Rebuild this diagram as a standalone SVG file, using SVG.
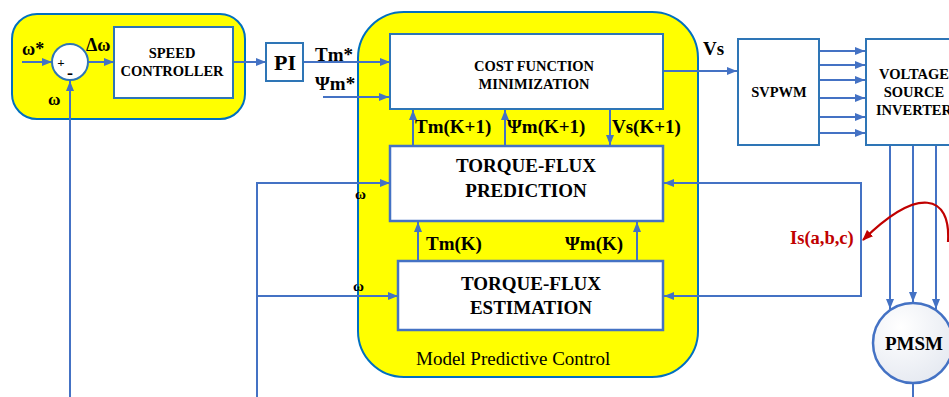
<svg xmlns="http://www.w3.org/2000/svg" width="949" height="397" viewBox="0 0 949 397">
  <defs>
    <marker id="arr" viewBox="0 0 10 8" refX="10" refY="4" markerWidth="10" markerHeight="8" markerUnits="userSpaceOnUse" orient="auto">
      <path d="M0,0 L10,4 L0,8 Z" fill="#4472C4"/>
    </marker>
    <marker id="arrRed" viewBox="0 0 10 8" refX="9" refY="4" markerWidth="11" markerHeight="9" markerUnits="userSpaceOnUse" orient="auto">
      <path d="M0,0 L10,4 L0,8 Z" fill="#C00000"/>
    </marker>
    <radialGradient id="motorFill" cx="0.35" cy="0.3" r="0.8">
      <stop offset="0" stop-color="#FFFFFF"/>
      <stop offset="1" stop-color="#E4E8F0"/>
    </radialGradient>
    <style>
      .zone { fill: #FFFF00; stroke: #0070C0; stroke-width: 2; }
      .box { fill: #FFFFFF; stroke: #2E75B6; stroke-width: 2; }
      .box2 { fill: #FFFFFF; stroke: #4472C4; stroke-width: 2.5; }
      .wire { fill: none; stroke: #4472C4; stroke-width: 2; }
      .wa { fill: none; stroke: #4472C4; stroke-width: 2; marker-end: url(#arr); }
      text { font-family: "Liberation Serif", "DejaVu Serif", "Times New Roman", serif; }
      .t { font-weight: bold; fill: #000000; }
      .c { text-anchor: middle; }
      .blk { font-size: 14.5px; }
      .big { font-size: 19px; }
      .lbl { font-size: 19px; }
      .sm { font-size: 15px; }
    </style>
  </defs>

  <!-- outer control zones -->
  <g id="speed-loop-zone">
    <rect class="zone" x="12" y="14" width="233" height="105" rx="25" ry="25"/>
  </g>
  <g id="mpc-zone">
    <rect class="zone" x="358" y="12" width="340" height="365" rx="46" ry="46"/>
    <text x="416" y="365" font-size="19" fill="#000000">Model Predictive Control</text>
  </g>

  <!-- connectors -->
  <g id="connectors">
    <!-- speed loop -->
    <line class="wa" x1="22" y1="62" x2="52" y2="62"/>
    <line class="wa" x1="88" y1="62" x2="114" y2="62"/>
    <line class="wa" x1="70" y1="397" x2="70" y2="81"/>
    <line class="wa" x1="233" y1="62" x2="266" y2="62"/>
    <!-- references into cost function -->
    <line class="wa" x1="303" y1="62" x2="390" y2="62"/>
    <line class="wa" x1="323" y1="97" x2="389" y2="97"/>
    <!-- internal MPC signals -->
    <line class="wa" x1="413" y1="146" x2="413" y2="110"/>
    <line class="wa" x1="505" y1="146" x2="505" y2="110"/>
    <line class="wa" x1="610" y1="110" x2="610" y2="145"/>
    <line class="wa" x1="418" y1="261" x2="418" y2="222"/>
    <line class="wa" x1="637" y1="261" x2="637" y2="222"/>
    <!-- speed feedback into MPC -->
    <line class="wire" x1="257" y1="397" x2="257" y2="182"/>
    <line class="wa" x1="256" y1="183" x2="390" y2="183"/>
    <line class="wa" x1="257" y1="296" x2="398" y2="296"/>
    <!-- voltage path -->
    <line class="wa" x1="663" y1="71" x2="737" y2="71"/>
    <line class="wa" x1="819" y1="51" x2="865" y2="51"/>
    <line class="wa" x1="819" y1="65" x2="865" y2="65"/>
    <line class="wa" x1="819" y1="80" x2="865" y2="80"/>
    <line class="wa" x1="819" y1="98" x2="865" y2="98"/>
    <line class="wa" x1="819" y1="117" x2="865" y2="117"/>
    <line class="wa" x1="819" y1="133" x2="865" y2="133"/>
    <!-- inverter phases to motor -->
    <line class="wa" x1="890" y1="145" x2="890" y2="309"/>
    <line class="wa" x1="913" y1="145" x2="913" y2="302"/>
    <line class="wa" x1="936" y1="145" x2="936" y2="309"/>
    <line class="wire" x1="913" y1="383" x2="913" y2="397"/>
    <!-- current feedback -->
    <line class="wire" x1="861" y1="182" x2="861" y2="297"/>
    <line class="wa" x1="862" y1="183" x2="664" y2="183"/>
    <line class="wa" x1="862" y1="296" x2="664" y2="296"/>
    <path d="M948,242 C951,194 918,186 863,240" fill="none" stroke="#C00000" stroke-width="2.2" marker-end="url(#arrRed)"/>
  </g>

  <!-- signal labels -->
  <g id="labels">
    <text class="t" x="22" y="55" font-size="18">ω*</text>
    <text class="t" x="86" y="51" font-size="18">Δω</text>
    <text class="t" x="48" y="105" font-size="17">ω</text>
    <text class="t lbl" x="315" y="61">Tm*</text>
    <text class="t lbl" x="315" y="90">Ψm*</text>
    <text class="t lbl" x="415" y="133">Tm(K+1)</text>
    <text class="t lbl" x="507" y="133">Ψm(K+1)</text>
    <text class="t lbl" x="612" y="133">Vs(K+1)</text>
    <text class="t lbl" x="426" y="250">Tm(K)</text>
    <text class="t lbl" x="565" y="250">Ψm(K)</text>
    <text class="t sm" x="355" y="199">ω</text>
    <text class="t sm" x="353" y="291">ω</text>
    <text class="t lbl" x="703" y="55">Vs</text>
    <text class="t" x="790" y="244" font-size="18.5" style="fill:#C00000">Is(a,b,c)</text>
  </g>

  <!-- nodes -->
  <g id="sum-junction">
    <circle cx="70" cy="62" r="18" fill="#FFFFFF" stroke="#2E75B6" stroke-width="2"/>
    <text class="t c" x="61" y="67" font-size="13">+</text>
    <text class="t c" x="70" y="79" font-size="18">-</text>
  </g>
  <g id="speed-controller">
    <rect class="box" x="114" y="27" width="119" height="71"/>
    <text class="t c blk" x="172" y="58">SPEED</text>
    <text class="t c blk" x="172" y="76">CONTROLLER</text>
  </g>
  <g id="pi">
    <rect class="box" x="266" y="43" width="37" height="38"/>
    <text class="t c" x="285" y="70" font-size="22">PI</text>
  </g>
  <g id="cost-function">
    <rect class="box" x="390" y="34" width="273" height="75"/>
    <text class="t c blk" x="534" y="71">COST FUNCTION</text>
    <text class="t c blk" x="534" y="89">MINIMIZATION</text>
  </g>
  <g id="prediction">
    <rect class="box2" x="390" y="146" width="273" height="75"/>
    <text class="t c big" x="526" y="172">TORQUE-FLUX</text>
    <text class="t c big" x="526" y="197">PREDICTION</text>
  </g>
  <g id="estimation">
    <rect class="box2" x="398" y="261" width="265" height="69"/>
    <text class="t c big" x="531" y="290">TORQUE-FLUX</text>
    <text class="t c big" x="531" y="314">ESTIMATION</text>
  </g>
  <g id="svpwm">
    <rect class="box" x="738" y="39" width="81" height="106"/>
    <text class="t c blk" x="779" y="97">SVPWM</text>
  </g>
  <g id="inverter">
    <rect class="box" x="866" y="39" width="96" height="106"/>
    <text class="t c blk" x="914" y="79">VOLTAGE</text>
    <text class="t c blk" x="914" y="97">SOURCE</text>
    <text class="t c blk" x="914" y="115">INVERTER</text>
  </g>
  <g id="pmsm">
    <circle cx="913" cy="343" r="40" fill="url(#motorFill)" stroke="#4472C4" stroke-width="2.5"/>
    <text class="t c" x="914" y="350" font-size="19">PMSM</text>
  </g>
</svg>
